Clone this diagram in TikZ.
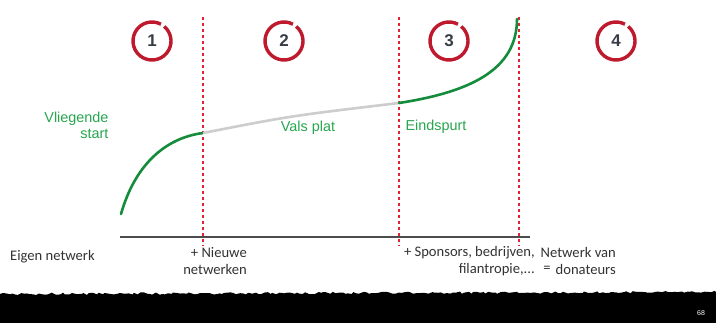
\documentclass[tikz,border=0pt]{standalone}
\usepackage{fontspec}
\setmainfont{Liberation Sans}
\newfontfamily\calibri{Carlito}
\usepackage{xcolor}
\usetikzlibrary{decorations.pathmorphing}

\definecolor{phasered}{RGB}{190,25,45}
\definecolor{borderred}{RGB}{232,30,55}
\definecolor{curvegreen}{RGB}{20,140,60}
\definecolor{labelgreen}{RGB}{40,165,80}
\definecolor{flatgray}{RGB}{205,205,205}
\definecolor{numgray}{RGB}{55,60,70}

\tikzset{
    phase/.style={circle, minimum size=38pt, inner sep=0pt, font=\bfseries\fontsize{17}{17}\selectfont, text=numgray},
    border/.style={borderred, line width=2.8pt, dash pattern=on 3pt off 3pt},
    curve/.style={curvegreen, line width=2.6pt},
    greenlabel/.style={text=labelgreen, font=\fontsize{14.4}{16}\selectfont},
    netlabel/.style={font=\calibri\fontsize{14.6}{17}\selectfont, text=black!80, inner sep=0pt}
}

\begin{document}
\begin{tikzpicture}[x=1pt, y=-1pt]
        \useasboundingbox (0,0) rectangle (716,323);
        \fill[white] (0,0) rectangle (716,323);

        % Phases
        \foreach \n/\x in {1/152, 2/284, 3/449, 4/616} {
            \node[phase] (phase\n) at (\x,41) {\n};
            \draw[phasered, line width=3.4pt] (phase\n.center) ++(62:19pt) arc[start angle=62, end angle=410, radius=19pt];
        }

        % Borders between phases
        \foreach \x [count=\i] in {203, 399, 519} {
            \coordinate (top\i) at (\x,17);
            \coordinate (bot\i) at (\x,246);
            \draw[border] (top\i) -- (bot\i);
        }

        % Axis
        \coordinate (axisleft) at (120,237);
        \coordinate (axisright) at (530,237);
        \draw[black!70, line width=1.1pt] (axisleft) -- (axisright);

        % Curve
        \coordinate (start) at (121,214);
        \coordinate (flat1) at (203,133);
        \coordinate (flat2) at (399,103);
        \coordinate (finish) at (517,19);
        \draw[curve, line cap=round] (start) .. controls (135,165) and (165,138) .. (flat1);
        \draw[flatgray, line width=2.6pt] (flat1) .. controls (290,116) .. (flat2);
        \draw[curve, line cap=round] (flat2) .. controls (470,92) and (517,70) .. (finish);

        % Green labels
        \node[greenlabel, anchor=east, align=right] (vliegend) at (112,125) {Vliegende\\start};
        \node[greenlabel] (vals) at (308,128) {Vals plat};
        \node[greenlabel, anchor=west] (eind) at (402,127) {Eindspurt};

        % Networks
        \node[netlabel, anchor=west] (eigen) at (10,257) {Eigen netwerk};
        \node[netlabel, anchor=east, align=right] (nieuw) at (247,261) {+ Nieuwe\\netwerken};
        \node[netlabel, anchor=east, align=right] (sponsors) at (535,261) {+ Sponsors, bedrijven,\\filantropie,...};
        \node[netlabel, anchor=east, align=right] (donateurs) at (616,261) {Netwerk van\\donateurs};
        \node[netlabel] (is) at (547,269) {=};

        % Bottom band
        \fill[black] (0,323) -- (0,294) decorate[decoration={random steps, segment length=3pt, amplitude=1.2pt}] {-- (716,292)} -- (716,323) -- cycle;
        \node[text=white, font=\fontsize{7}{8}\selectfont] (page) at (701,313) {68};
    \end{tikzpicture}
\end{document}
